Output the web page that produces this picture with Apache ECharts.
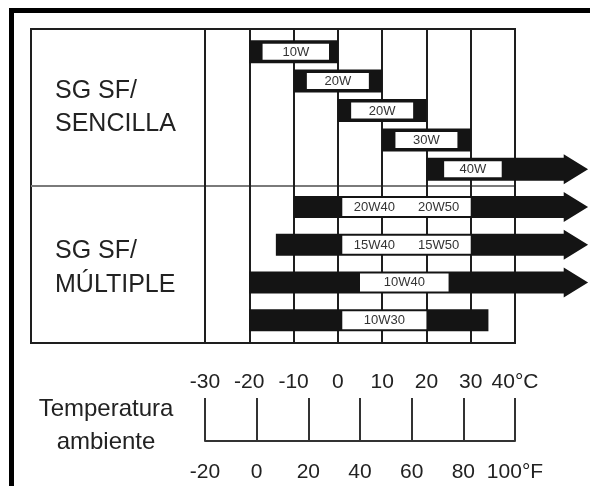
<!DOCTYPE html>
<html>
<head>
<meta charset="utf-8">
<script src="https://cdn.jsdelivr.net/npm/echarts@6/dist/echarts.min.js"></script>
<style>
  html, body { margin: 0; padding: 0; background: #fff; }
  #chart { width: 590px; height: 486px; }
</style>
</head>
<body>
<div id="chart"></div>
<script>
// temperatures in °C; null end = arrow going past 40°C
var topLabels = [['10W'], ['20W'], ['20W'], ['30W'], ['40W']];
var topStart = [-20, -10, 0, 10, 20];
var topEnd = [0, 10, 20, 30, null];
var topBoxFrom = [-17, -7, 3, 13, 24];
var topBoxTo = [-2, 7, 17, 27, 37];

var multiLabels = [['20W40', '20W50'], ['15W40', '15W50'], ['10W40'], ['10W30']];
var multiStart = [-10, -14, -20, -20];
var multiEnd = [null, null, null, 34];
var multiBoxFrom = [1, 1, 5, 1];
var multiBoxTo = [30, 30, 25, 20];

var celsiusTicks = [-30, -20, -10, 0, 10, 20, 30, 40];
var fahrenheitTicks = [-20, 0, 20, 40, 60, 80, 100];

var ARROW_BODY = 51;
var ARROW_TIP = 56.5;

var FONT = "'Liberation Sans', Arial, sans-serif";
var INK = '#141414';
var TEXT = '#222';

function rowsData(start, end, boxFrom, boxTo) {
  return start.map(function (s, i) {
    var arrow = end[i] === null;
    return [s, i, arrow ? ARROW_BODY : end[i], boxFrom[i], boxTo[i], arrow ? 1 : 0];
  });
}

function makeRender(labels, barH, inset) {
  return function (params, api) {
    var y = api.value(1);
    var p0 = api.coord([api.value(0), y]);
    var p1 = api.coord([api.value(2), y]);
    var b0 = api.coord([api.value(3), y]);
    var b1 = api.coord([api.value(4), y]);
    var yc = p0[1];
    var top = yc - barH / 2, bot = yc + barH / 2;
    var children = [];
    if (api.value(5)) {
      var tip = api.coord([ARROW_TIP, y])[0];
      var head = 15;
      children.push({
        type: 'polygon',
        shape: { points: [[p0[0], top], [p1[0], top], [p1[0], yc - head], [tip, yc],
                          [p1[0], yc + head], [p1[0], bot], [p0[0], bot]] },
        style: { fill: INK }
      });
    } else {
      children.push({
        type: 'rect',
        shape: { x: p0[0], y: top, width: p1[0] - p0[0], height: barH },
        style: { fill: INK }
      });
    }
    children.push({
      type: 'rect',
      shape: { x: b0[0], y: top + inset, width: b1[0] - b0[0], height: barH - 2 * inset },
      style: { fill: '#fff' }
    });
    var txt = labels[params.dataIndex];
    var w = b1[0] - b0[0];
    txt.forEach(function (t, k) {
      var cx = txt.length === 1 ? b0[0] + w / 2 : b0[0] + w * (k === 0 ? 0.25 : 0.75);
      children.push({
        type: 'text',
        style: { text: t, x: cx, y: yc + 0.5, align: 'center', verticalAlign: 'middle',
                 fill: '#333', fontSize: 13, fontFamily: FONT }
      });
    });
    return { type: 'group', children: children };
  };
}

var chart = echarts.init(document.getElementById('chart'));

var hidden = { show: false };

var option = {
  backgroundColor: '#fff',
  animation: false,
  grid: [
    { left: 205, right: 75, top: 29, height: 314 },
    { left: 205, right: 75, top: 37, height: 147 },
    { left: 205, right: 75, top: 188, height: 151 },
    { left: 205, right: 75, top: 398, height: 43 }
  ],
  xAxis: [
    {
      gridIndex: 0, type: 'value', min: -30, max: 40, interval: 10,
      axisLine: hidden, axisTick: hidden, axisLabel: hidden,
      splitLine: { show: true, lineStyle: { color: '#1e1e1e', width: 2 } }
    },
    { gridIndex: 1, type: 'value', min: -30, max: 40, show: false },
    { gridIndex: 2, type: 'value', min: -30, max: 40, show: false },
    {
      gridIndex: 3, type: 'value', position: 'bottom',
      min: fahrenheitTicks[0], max: fahrenheitTicks[fahrenheitTicks.length - 1], interval: 20,
      axisLine: { show: true, lineStyle: { color: '#333', width: 2 } },
      axisTick: { show: true, inside: true, length: 43, lineStyle: { color: '#333', width: 2 } },
      axisLabel: {
        margin: 21, color: TEXT, fontSize: 21, fontFamily: FONT,
        formatter: function (v) { return v === 100 ? '100°F' : String(v); }
      },
      splitLine: hidden
    },
    {
      gridIndex: 3, type: 'value', position: 'top',
      min: celsiusTicks[0], max: celsiusTicks[celsiusTicks.length - 1], interval: 10,
      axisLine: hidden, axisTick: hidden, splitLine: hidden,
      axisLabel: {
        margin: 5, color: TEXT, fontSize: 21, fontFamily: FONT,
        formatter: function (v) { return v === 40 ? '40°C' : String(v); }
      }
    }
  ],
  yAxis: [
    { gridIndex: 0, type: 'value', show: false },
    { gridIndex: 1, type: 'category', inverse: true, show: false,
      data: topLabels.map(function (l, i) { return i + ':' + l.join(' '); }) },
    { gridIndex: 2, type: 'category', inverse: true, show: false,
      data: multiLabels.map(function (l, i) { return i + ':' + l.join(' '); }) },
    { gridIndex: 3, type: 'value', show: false }
  ],
  graphic: [
    // outer scan frame
    { type: 'rect', shape: { x: 9, y: 8, width: 581, height: 5 }, style: { fill: '#000' } },
    { type: 'rect', shape: { x: 9, y: 8, width: 5, height: 478 }, style: { fill: '#000' } },
    // table frame
    { type: 'rect', shape: { x: 31, y: 29, width: 484, height: 314 },
      style: { fill: null, stroke: '#1e1e1e', lineWidth: 2 } },
    { type: 'line', shape: { x1: 31, y1: 186, x2: 515, y2: 186 },
      style: { stroke: '#7a7a7a', lineWidth: 2 } },
    { type: 'text', x: 55, y: 108,
      style: { text: 'SG SF/\nSENCILLA', fontSize: 25, lineHeight: 33, fontFamily: FONT,
               fill: TEXT, verticalAlign: 'middle' } },
    { type: 'text', x: 55, y: 268,
      style: { text: 'SG SF/\nMÚLTIPLE', fontSize: 25, lineHeight: 34, fontFamily: FONT,
               fill: TEXT, verticalAlign: 'middle' } },
    { type: 'text', x: 106, y: 426,
      style: { text: 'Temperatura\nambiente', fontSize: 24, lineHeight: 33, fontFamily: FONT,
               fill: TEXT, align: 'center', verticalAlign: 'middle' } }
  ],
  series: [
    {
      type: 'custom', xAxisIndex: 1, yAxisIndex: 1, clip: false,
      renderItem: makeRender(topLabels, 23, 3.5),
      data: rowsData(topStart, topEnd, topBoxFrom, topBoxTo)
    },
    {
      type: 'custom', xAxisIndex: 2, yAxisIndex: 2, clip: false,
      renderItem: makeRender(multiLabels, 22, 2),
      data: rowsData(multiStart, multiEnd, multiBoxFrom, multiBoxTo)
    }
  ]
};

chart.setOption(option);
</script>
</body>
</html>
